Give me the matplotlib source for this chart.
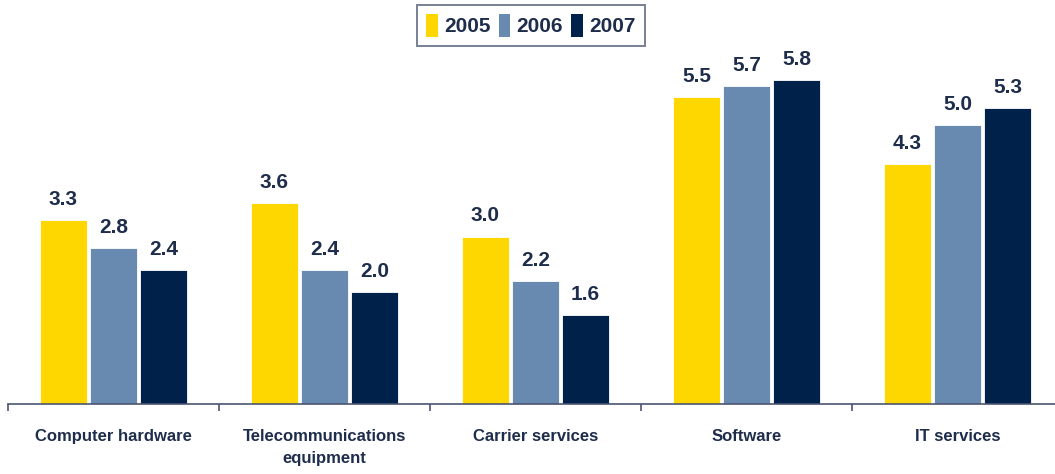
import numpy as np
import matplotlib.pyplot as plt
from matplotlib.patches import Patch

categories = ['Computer hardware', 'Telecommunications\nequipment', 'Carrier services', 'Software', 'IT services']
years = ['2005', '2006', '2007']
values_2005 = [3.3, 3.6, 3.0, 5.5, 4.3]
values_2006 = [2.8, 2.4, 2.2, 5.7, 5.0]
values_2007 = [2.4, 2.0, 1.6, 5.8, 5.3]

colors = ['#FFD700', '#6889B0', '#00224A']
text_color = '#1E2D4C'


def main():
    plt.rcParams['font.family'] = ['Liberation Sans Narrow', 'Liberation Sans', 'DejaVu Sans']
    fig = plt.figure(figsize=(10.55, 4.74), dpi=100)
    ax = fig.add_axes([8 / 1055, 70 / 474, 1055 / 1055, 404 / 474])

    x = np.arange(len(categories))
    width = 0.225
    step = 0.237
    series = [values_2005, values_2006, values_2007]
    for i, (vals, c) in enumerate(zip(series, colors)):
        bars = ax.bar(x + (i - 1) * step, vals, width=width, color=c, edgecolor='white', linewidth=0.6)
        for b, v in zip(bars, vals):
            ax.text(b.get_x() + b.get_width() / 2, v + 0.2, f'{v:.1f}', ha='center', va='bottom',
                    fontsize=15, fontweight='bold', color=text_color)

    ax.set_xlim(-0.5, 4.5)
    ax.set_ylim(0, 7.24)
    ax.set_yticks([])
    for side in ['top', 'right', 'left']:
        ax.spines[side].set_visible(False)
    ax.spines['bottom'].set_color('#4A5570')
    ax.spines['bottom'].set_linewidth(1.2)

    # boundary ticks between groups, labels centred under each group
    ax.set_xticks(np.arange(-0.5, 5.0, 1.0))
    ax.set_xticklabels([])
    ax.tick_params(axis='x', direction='out', length=5, width=1.2, color='#4A5570')
    for xi, name in zip(x, categories):
        ax.text(xi, -0.45, name, ha='center', va='top', fontsize=12, fontweight='bold',
                color=text_color, linespacing=1.55)

    handles = [Patch(facecolor=c, edgecolor='none') for c in colors]
    leg = fig.legend(handles, years, loc='upper center', bbox_to_anchor=(0.503, 0.99), ncol=3,
                     frameon=True, fancybox=False, edgecolor='#56607A', handlelength=0.55,
                     handleheight=1.3, handletextpad=0.3, columnspacing=0.4, borderpad=0.45,
                     borderaxespad=0, prop={'weight': 'bold', 'size': 15})
    leg.get_frame().set_linewidth(1.4)
    for t in leg.get_texts():
        t.set_color(text_color)

    fig.savefig('out.png', dpi=100)


if __name__ == '__main__':
    main()
